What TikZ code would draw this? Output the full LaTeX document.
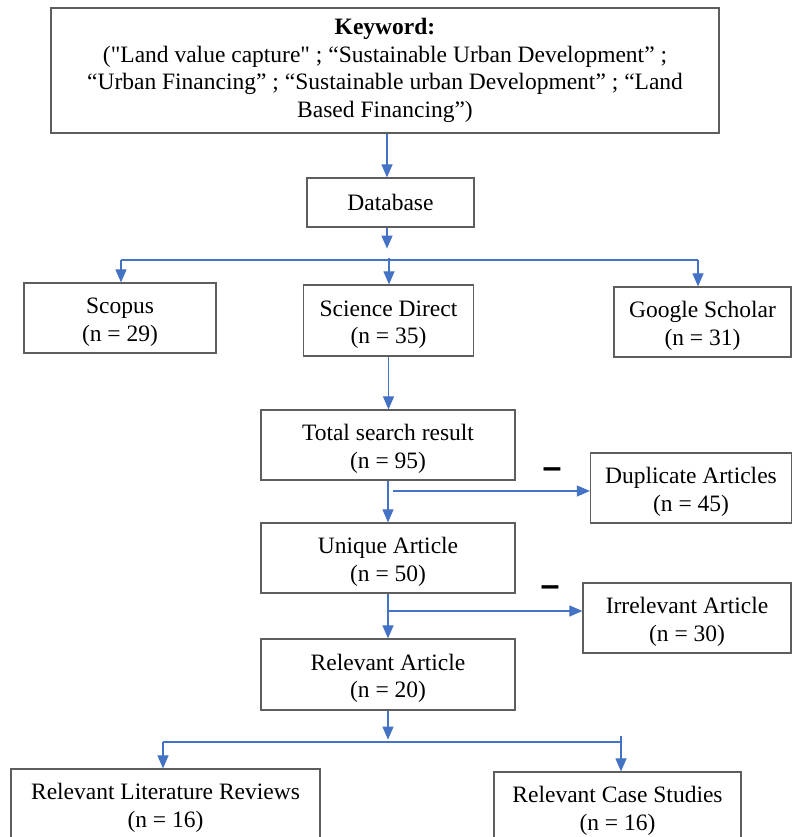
\documentclass[tikz,border=0pt]{standalone}
\usepackage{fontspec}
\setmainfont{Liberation Serif}[Ligatures=TeXOff]
\setsansfont{Liberation Sans}
\usetikzlibrary{arrows.meta}
\definecolor{lineblue}{HTML}{4472C4}
\definecolor{boxgray}{HTML}{5E5E5E}
\newcommand{\tstrut}{\rule{0pt}{24pt}}
\begin{document}
\begin{tikzpicture}[x=1pt,y=-1pt,
  box/.style={draw=boxgray, line width=1.2pt, align=center, inner sep=0pt,
              font=\fontsize{23.5}{27.7}\selectfont},
  arr/.style={draw=lineblue, line width=1.1pt, -{Triangle[length=13pt,width=11pt]}},
  ln/.style={draw=lineblue, line width=1.1pt},
  minus/.style={font=\sffamily\bfseries\fontsize{34}{34}\selectfont, inner sep=0pt, anchor=base}]
\useasboundingbox (0,0) rectangle (792,837);

% boxes
\node[box, minimum width=668, minimum height=125] (kw) at (385,70.5)
  {{\bfseries Keyword:}\\("Land value capture" ; “Sustainable Urban Development” ;\\“Urban Financing” ; “Sustainable urban Development” ; “Land\\Based Financing”)};
\node[box, minimum width=167, minimum height=49] (db) at (390.5,202.5) {Database};
\node[box, minimum width=192, minimum height=70] (scopus) at (120,318) {\tstrut Scopus\\(n = 29)};
\node[box, minimum width=170, minimum height=71] (sd) at (388.5,320.5) {\tstrut Science Direct\\(n = 35)};
\node[box, minimum width=177, minimum height=70] (gs) at (702.5,322) {\tstrut Google Scholar\\(n = 31)};
\node[box, minimum width=254, minimum height=70] (total) at (388,445) {\tstrut Total search result\\(n = 95)};
\node[box, minimum width=201, minimum height=70] (dup) at (691,488) {\tstrut Duplicate Articles\\(n = 45)};
\node[box, minimum width=254, minimum height=70] (uniq) at (388,558) {\tstrut Unique Article\\(n = 50)};
\node[box, minimum width=208, minimum height=70] (irr) at (687,618) {\tstrut Irrelevant Article\\(n = 30)};
\node[box, minimum width=254, minimum height=71] (rel) at (388,674.5) {\tstrut Relevant Article\\(n = 20)};
\node[box, minimum width=309, minimum height=70] (lit) at (165.5,804) {\tstrut Relevant Literature Reviews\\(n = 16)};
\node[box, minimum width=247, minimum height=70] (case) at (617.5,807) {\tstrut Relevant Case Studies\\(n = 16)};

% minus signs
\node[minus] (m1) at (552,478.5) {–};
\node[minus] (m2) at (550,596.5) {–};

% branch coordinates
\coordinate (a0) at (387,0);
\coordinate (b0) at (389,258);
\coordinate (bl) at (121,260);
\coordinate (br) at (698,260);
\coordinate (d0) at (393,491);
\coordinate (u0) at (388,611);
\coordinate (l0) at (163,742);
\coordinate (r0) at (621,742);
\coordinate (r1) at (621,736);

% connectors
\draw[arr] (kw.south -| a0) -- (db.north -| a0);
\draw[arr] (db.south -| a0) -- ++(0,21);
\draw[ln] (bl) -- (br);
\draw[arr] (bl) -- (bl |- scopus.north);
\draw[arr] (b0) -- (b0 |- sd.north);
\draw[arr] (br) -- (br |- gs.north);
\draw[arr] (sd.south) -- (sd.south |- total.north);
\draw[arr] (total.south) -- (total.south |- uniq.north);
\draw[arr] (d0) -- (dup.west |- d0);
\draw[arr] (uniq.south) -- (uniq.south |- rel.north);
\draw[arr] (u0) -- (irr.west |- u0);
\draw[arr] (rel.south) -- ++(0,29);
\draw[ln] (l0) -- (r0);
\draw[arr] (l0) -- (l0 |- lit.north);
\draw[arr] (r1) -- (r1 |- case.north);
\end{tikzpicture}
\end{document}
